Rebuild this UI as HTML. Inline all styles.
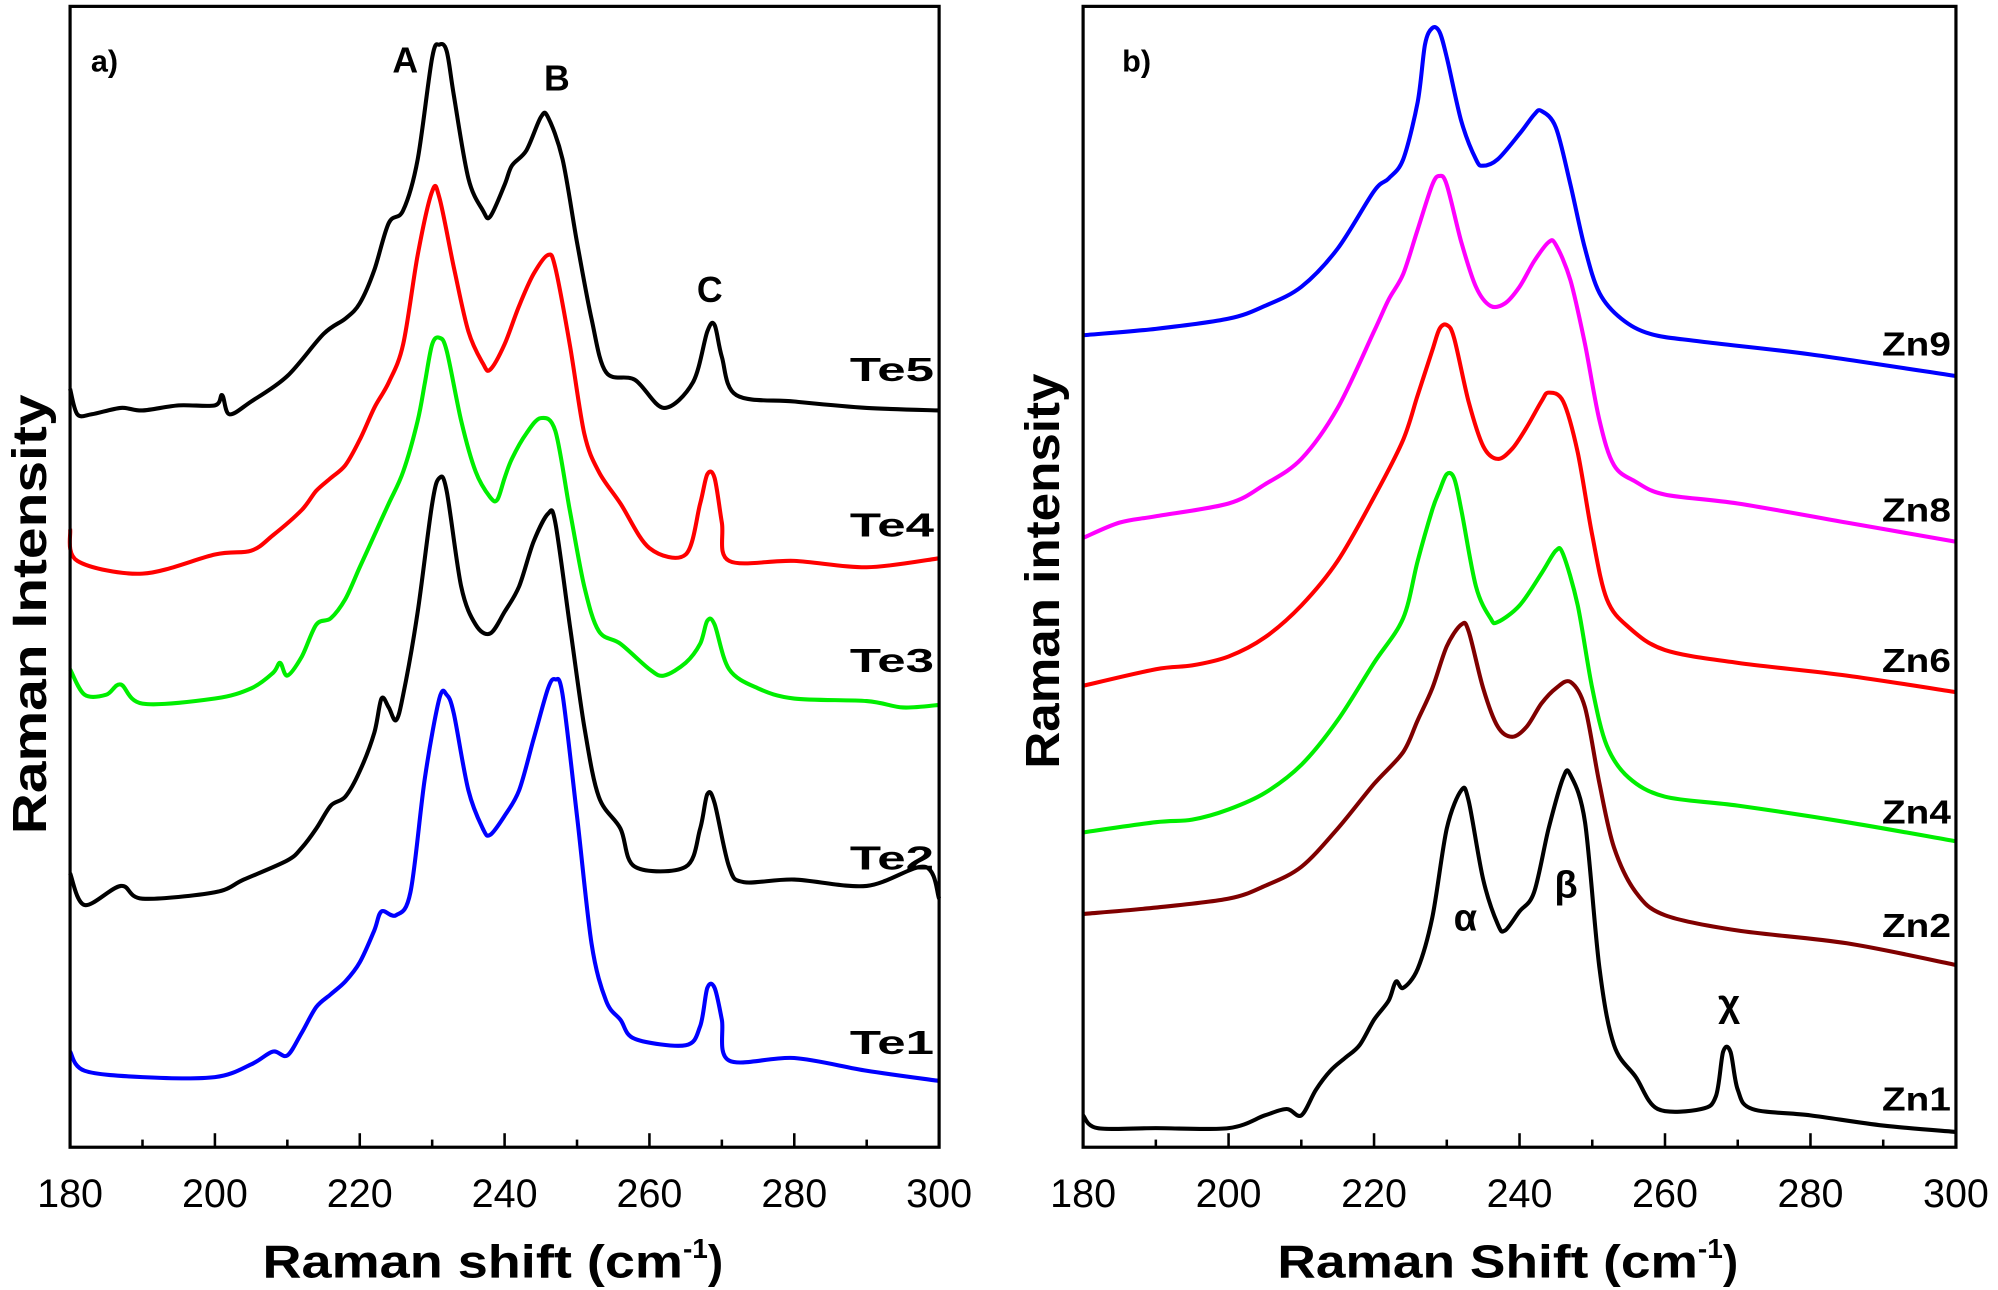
<!DOCTYPE html>
<html><head><meta charset="utf-8">
<style>
html,body{margin:0;padding:0;background:#fff;}
svg{display:block;}
text{font-family:"Liberation Sans",sans-serif;}
</style></head>
<body>
<svg id="chart" width="1998" height="1290" viewBox="0 0 1568 1012" preserveAspectRatio="none" xmlns="http://www.w3.org/2000/svg">
<g id="panelA"></g>
<g id="panelB"></g>
</svg>
<script>
// ---- Panel a data (x = Raman shift, y = offset intensity units) ----
const teShift = {
 Te5:[180,181,183,187,190,195,200,201,202,205,210,215,218,220,222,224,226,228,230,231,232,233,235,237,238,240,241,243,245,246,248,250,252,254,258,262,266,268,269,270,272,280,290,300],
 Te4:[180,181,190,200,205,208,212,214,216,218,220,222,224,226,228,230,231,233,235,237,238,240,242,244,246,247,249,251,253,256,260,265,267,268,269,270,271,280,290,300],
 Te3:[180,182,185,187,190,200,205,208,209,210,212,214,216,218,220,222,224,226,228,229,230,231,232,234,236,238,239,240,241,243,245,247,249,251,253,256,260,262,265,267,268,269,271,275,280,290,295,300],
 Te2:[180,182,187,190,200,204,210,212,214,216,218,220,222,223,224,225,226,228,230,231,232,234,236,238,240,242,244,246,247,249,251,253,256,258,265,267,268,269,271,273,280,290,298,300],
 Te1:[180,182,190,200,205,208,210,212,214,216,218,220,222,223,225,227,229,231,232,233,235,237,238,240,242,244,246,247,248,250,252,254,256,258,265,267,268,269,270,271,280,290,300]
};
const teIntensity = {
 Te5:[595,575,575,580,578,582,582,590,575,585,605,638,650,662,688,725,735,775,855,865,860,825,760,735,730,755,770,782,808,808,775,710,650,608,602,580,600,640,645,620,590,585,580,578],
 Te4:[485,460,450,465,468,480,500,515,525,535,555,580,600,630,700,750,745,690,640,615,610,630,660,685,700,690,630,560,530,505,470,465,505,528,525,490,460,460,455,462],
 Te3:[375,355,355,363,348,352,360,372,380,370,385,410,415,430,455,480,505,530,570,600,630,635,625,570,530,510,508,525,540,560,572,562,500,440,405,395,375,370,380,395,413,410,375,360,352,350,345,347],
 Te2:[215,190,205,195,200,210,225,235,250,268,275,295,325,352,345,335,355,420,505,525,515,440,410,403,420,440,475,497,490,410,330,275,250,220,220,250,277,270,220,208,210,205,220,195],
 Te1:[75,60,55,55,65,75,72,90,110,120,130,145,170,185,182,200,290,352,355,340,280,250,245,260,280,320,360,367,355,260,160,115,100,85,80,95,125,125,100,68,70,60,52]
};
const teLabels = ["Te5","Te4","Te3","Te2","Te1"];
const teColors = {Te5:"#000000",Te4:"#ff0000",Te3:"#00ee00",Te2:"#000000",Te1:"#0000ff"};
const teLabelY = {Te5:290,Te4:412,Te3:518,Te2:673,Te1:818};

// ---- Panel b data ----
const znShift = {
 Zn9:[180,190,200,205,210,215,220,222,224,226,227,228,229,230,232,234,235,237,240,242,243,245,247,249,251,254,258,265,280,300],
 Zn8:[180,185,190,200,205,210,215,220,222,224,226,228,229,230,232,234,236,238,240,242,244,245,247,249,251,253,256,260,270,285,300],
 Zn6:[180,190,195,200,205,210,215,220,224,226,228,229,230,231,233,235,237,239,241,243,244,246,248,250,252,255,260,270,285,300],
 Zn4:[180,190,195,200,205,210,215,220,224,226,228,229,230,231,232,234,236,237,240,243,245,246,248,250,252,255,260,270,285,300],
 Zn2:[180,190,200,205,210,215,220,224,226,228,230,232,233,235,237,239,241,243,245,247,249,251,253,256,260,270,285,300],
 Zn1:[180,182,190,200,205,208,210,212,214,216,218,220,222,223,224,226,228,230,232,233,235,237,238,240,242,244,246,247,249,251,253,256,259,265,267,268,269,270,272,280,290,300]
};
const znIntensity = {
 Zn9:[637,642,650,660,675,705,750,760,775,820,865,878,875,855,805,775,770,775,795,810,813,800,755,705,670,650,638,632,622,605],
 Zn8:[478,490,495,505,520,540,580,640,665,685,720,755,762,755,710,675,660,662,675,695,710,708,680,630,570,535,522,512,505,490,475],
 Zn6:[362,375,378,385,400,425,460,510,555,590,625,642,645,635,585,550,540,548,565,585,592,585,545,480,430,408,390,380,370,357],
 Zn4:[247,255,257,265,278,300,335,380,415,460,500,515,528,525,500,440,415,412,425,450,468,465,425,360,315,290,275,268,255,240],
 Zn2:[183,188,195,205,220,250,285,310,335,360,393,410,405,360,330,322,330,348,360,365,345,285,235,200,182,170,160,143],
 Zn1:[25,15,15,15,25,30,25,45,60,70,80,100,115,130,125,140,180,250,280,272,210,175,170,185,200,250,290,292,255,140,80,55,30,30,40,75,75,45,30,25,17,12]
};
const znLabels = ["Zn9","Zn8","Zn6","Zn4","Zn2","Zn1"];
const znColors = {Zn9:"#0000ff",Zn8:"#ff00ff",Zn6:"#ff0000",Zn4:"#00ee00",Zn2:"#800000",Zn1:"#000000"};
const znLabelY = {Zn9:270,Zn8:400,Zn6:518,Zn4:637,Zn2:726,Zn1:862};

const xTicks = [180,200,220,240,260,280,300];
const xMinor = [190,210,230,250,270,290];

const NS = "http://www.w3.org/2000/svg";
function mk(tag, attrs, parent){
  const e = document.createElementNS(NS, tag);
  for (const k in attrs) e.setAttribute(k, attrs[k]);
  parent.appendChild(e);
  return e;
}
function makeX(x0, x1){ return s => x0 + (s-180)/(300-180)*(x1-x0); }
function yS(v){ return 900 - v; }

function smoothPath(pts){
  let d = "M" + pts[0][0].toFixed(1) + "," + pts[0][1].toFixed(1);
  for (let i=0;i<pts.length-1;i++){
    const p0 = pts[Math.max(0,i-1)], p1 = pts[i], p2 = pts[i+1], p3 = pts[Math.min(pts.length-1,i+2)];
    const t = 0.16;
    const c1x = p1[0] + (p2[0]-p0[0])*t, c1y = p1[1] + (p2[1]-p0[1])*t;
    const c2x = p2[0] - (p3[0]-p1[0])*t, c2y = p2[1] - (p3[1]-p1[1])*t;
    d += "C" + c1x.toFixed(1)+","+c1y.toFixed(1)+" "+c2x.toFixed(1)+","+c2y.toFixed(1)+" "+p2[0].toFixed(1)+","+p2[1].toFixed(1);
  }
  return d;
}

function drawPanel(g, x0, x1, shifts, ints, labels, colors, labelY, xTitle, yTitle, yTitleX, yTitleY, labW, yLen){
  const X = makeX(x0, x1);
  labels.forEach(name=>{
    const xs = shifts[name], vs = ints[name];
    const pts = xs.map((s,i)=>[X(s), yS(vs[i])]);
    const p = mk("path",{d:smoothPath(pts),fill:"none",stroke:colors[name],"stroke-width":3.2,"stroke-linejoin":"round"},g);
    
    
    const t = mk("text",{x:x1-4-labW,y:labelY[name]+9,"font-size":26,"font-weight":"bold",fill:"#000",textLength:labW,lengthAdjust:"spacingAndGlyphs"},g);
    t.textContent = name;
    
    
  });
  const fr = mk("rect",{x:x0,y:5,width:x1-x0,height:895,fill:"none",stroke:"#000","stroke-width":2.5},g);
  
  
  xTicks.forEach(s=>{
    const l = mk("line",{x1:X(s),x2:X(s),y1:900,y2:889,stroke:"#000","stroke-width":2},g);
    
    
    const t = mk("text",{x:X(s),y:947,"text-anchor":"middle","font-size":31,fill:"#000"},g);
    t.textContent = s;
    
    
  });
  xMinor.forEach(s=>{
    const l = mk("line",{x1:X(s),x2:X(s),y1:900,y2:894,stroke:"#000","stroke-width":2},g);
    
    
  });
  const cx = (x0+x1)/2;
  const tt = mk("text",{x:cx-190,y:1002,"font-size":36,"font-weight":"bold",fill:"#000"},g);
  tt.innerHTML = '<tspan textLength="330" lengthAdjust="spacingAndGlyphs">' + xTitle + ' (cm</tspan><tspan dy="-15" font-size="22">-1</tspan><tspan dy="15">)</tspan>';
  
  
  const yt = mk("text",{x:yTitleX,y:yTitleY,"text-anchor":"middle","font-size":38,"font-weight":"bold",fill:"#000",textLength:yLen,lengthAdjust:"spacingAndGlyphs",transform:"rotate(-90 "+yTitleX+" "+yTitleY+")"},g);
  yt.textContent = yTitle;
  
  
}

const gA = document.getElementById("panelA");
const gB = document.getElementById("panelB");
drawPanel(gA, 55, 737, teShift, teIntensity, teLabels, teColors, teLabelY, "Raman shift", "Raman Intensity", 36, 482, 66, 345);
drawPanel(gB, 850, 1535, znShift, znIntensity, znLabels, znColors, znLabelY, "Raman Shift", "Raman intensity", 831, 448, 54, 310);

function ann(g, x, y, txt, size, name, family){
  const t = mk("text",{x:x,y:y,"text-anchor":"middle","font-size":size,"font-weight":"bold",fill:"#000"},g);
  if (family) t.setAttribute("font-family", family);
  t.textContent = txt;
  
  
}
ann(gA, 82, 56, "a)", 24, "panel-a-tag");
ann(gA, 318, 57, "A", 28, "peak-a-label");
ann(gA, 437, 71, "B", 28, "peak-b-label");
ann(gA, 557, 237, "C", 28, "peak-c-label");
ann(gB, 892, 56, "b)", 24, "panel-b-tag");
ann(gB, 1150, 730, "α", 30, "peak-alpha-label", "Liberation Serif, serif");
ann(gB, 1229, 704, "β", 30, "peak-beta-label", "Liberation Serif, serif");
ann(gB, 1357, 797, "χ", 30, "peak-chi-label", "Liberation Serif, serif");
</script>
</body></html>
